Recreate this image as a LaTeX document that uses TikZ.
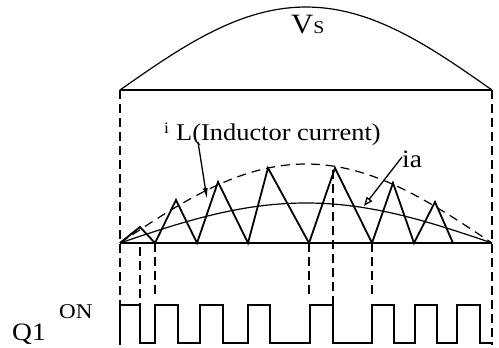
\documentclass[tikz,border=0pt]{standalone}
\usepackage{fontspec}
\setmainfont{Liberation Serif}[FakeStretch=1.1]
\usetikzlibrary{arrows.meta,calc}
\tikzset{
  wave/.style={line width=1.8pt, black},
  curve/.style={line width=1.2pt, black},
  envelope/.style={line width=1.2pt, dash pattern=on 9pt off 6pt},
  guide/.style={line width=1.4pt, dash pattern=on 9pt off 5pt},
  lbl/.style={inner sep=0pt, anchor=base west},
  pointer/.style={line width=1.3pt},
}
\begin{document}
\begin{tikzpicture}[x=1pt, y=-1pt]
  \useasboundingbox (0,0) rectangle (499,348);
  % supply voltage half cycle
  \draw[curve] plot[domain=0:180, samples=60] ({120+2.0667*\x},{90-83*sin(\x)});
  \draw[wave] (120,90) -- (492,90);
  \node[lbl] (vs) at (291,33) {\fontsize{28}{30}\selectfont V\fontsize{18}{20}\selectfont S};
  % guides down to the gate signal
  \draw[guide] (120,90) -- (120,345);
  \draw[guide] (492,90) -- (492,345);
  \draw[guide] (140,247) -- (140,305);
  \draw[guide] (155,243) -- (155,297);
  \draw[guide] (309,243) -- (309,297);
  \draw[guide] (333,170) -- (333,305);
  \draw[guide] (372,243) -- (372,297);
  % currents
  \draw[wave] (120,243) -- (492,243);
  \draw[envelope] plot[domain=0:180, samples=60] ({120+2.0667*\x},{243-79*sin(\x)});
  \draw[curve] plot[domain=0:180, samples=60] ({120+2.0667*\x},{243-40*sin(\x)});
  \draw[wave] (120,243) -- (140,227) -- (155,243) -- (176,200) -- (197,243)
    -- (218,182) -- (248,243) -- (268,168) -- (309,243) -- (335,168)
    -- (372,243) -- (393,183) -- (414,243) -- (435,202) -- (453,243);
  % labels and pointers
  \node[lbl] (il) at (164,133) {\fontsize{16}{18}\selectfont i};
  \node[lbl] (iltext) at (176,140) {\fontsize{24}{26}\selectfont L(Inductor current)};
  \coordinate (ilpt) at (207,199);
  \draw[pointer, -{Latex[length=11pt, width=5pt]}] (198,142) -- (ilpt);
  \node[lbl] (ia) at (402,167) {\fontsize{25}{27}\selectfont ia};
  \coordinate (iapt) at (364,206);
  \draw[pointer, -{Triangle[open, length=9pt, width=7pt]}] (402,157) -- (iapt);
  % gate signal of Q1
  \node[lbl] (q1) at (12,340) {\fontsize{25}{27}\selectfont Q1};
  \node[lbl] (on) at (59,318) {\fontsize{21}{23}\selectfont ON};
  \draw[wave] (120,343) -- (120,305) -- (140,305) -- (140,343) -- (155,343)
    -- (155,305) -- (178,305) -- (178,343) -- (200,343) -- (200,305)
    -- (223,305) -- (223,343) -- (248,343) -- (248,305) -- (270,305)
    -- (270,343) -- (310,343) -- (310,305) -- (333,305) -- (333,343)
    -- (372,343) -- (372,305) -- (394,305) -- (394,343) -- (415,343)
    -- (415,305) -- (437,305) -- (437,343) -- (457,343) -- (457,305)
    -- (480,305) -- (480,343) -- (492,343);
\end{tikzpicture}
\end{document}
